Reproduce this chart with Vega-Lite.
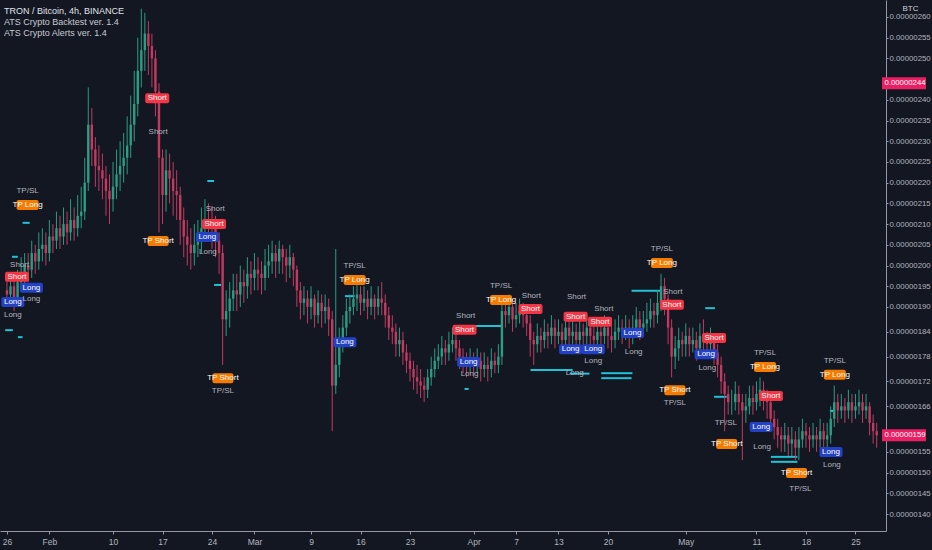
{
  "$schema": "https://vega.github.io/schema/vega-lite/v6.json",
  "width": 886,
  "height": 531,
  "autosize": "none",
  "padding": {"left": 0, "top": 0, "right": 46, "bottom": 19},
  "background": "#131722",
  "config": {"view": {"stroke": null}},
  "title": {
    "text": "TRON / Bitcoin, 4h, BINANCE",
    "subtitle": ["ATS Crypto Backtest ver. 1.4", "ATS Crypto Alerts ver. 1.4"],
    "anchor": "start",
    "frame": "group",
    "orient": "top",
    "offset": -38,
    "dx": 4,
    "font": "Liberation Sans Narrow, Liberation Sans, sans-serif",
    "fontSize": 9,
    "fontWeight": "normal",
    "color": "#e0e3eb",
    "subtitleFont": "Liberation Sans Narrow, Liberation Sans, sans-serif",
    "subtitleFontSize": 9,
    "subtitleColor": "#c8cad0",
    "subtitlePadding": 2
  },
  "datasets": {
    "candles": [
      {"t":"2020-01-26T00:00","o":194,"h":197,"l":190,"c":193},
      {"t":"2020-01-26T12:00","o":193,"h":198,"l":191,"c":195},
      {"t":"2020-01-27T00:00","o":195,"h":197,"l":189,"c":192},
      {"t":"2020-01-27T12:00","o":192,"h":199,"l":190,"c":196},
      {"t":"2020-01-28T00:00","o":196,"h":202,"l":194,"c":198},
      {"t":"2020-01-28T12:00","o":198,"h":203,"l":195,"c":200},
      {"t":"2020-01-29T00:00","o":200,"h":203,"l":196,"c":199},
      {"t":"2020-01-29T12:00","o":199,"h":206,"l":197,"c":203},
      {"t":"2020-01-30T00:00","o":203,"h":205,"l":198,"c":201},
      {"t":"2020-01-30T12:00","o":201,"h":208,"l":199,"c":204},
      {"t":"2020-01-31T00:00","o":204,"h":209,"l":201,"c":205},
      {"t":"2020-01-31T12:00","o":205,"h":208,"l":200,"c":203},
      {"t":"2020-02-01T00:00","o":203,"h":211,"l":201,"c":207},
      {"t":"2020-02-01T12:00","o":207,"h":210,"l":203,"c":206},
      {"t":"2020-02-02T00:00","o":206,"h":213,"l":204,"c":209},
      {"t":"2020-02-02T12:00","o":209,"h":212,"l":204,"c":207},
      {"t":"2020-02-03T00:00","o":207,"h":214,"l":205,"c":210},
      {"t":"2020-02-03T12:00","o":210,"h":213,"l":205,"c":208},
      {"t":"2020-02-04T00:00","o":208,"h":216,"l":206,"c":211},
      {"t":"2020-02-04T12:00","o":211,"h":214,"l":206,"c":209},
      {"t":"2020-02-05T00:00","o":209,"h":217,"l":207,"c":212},
      {"t":"2020-02-05T12:00","o":212,"h":219,"l":209,"c":213},
      {"t":"2020-02-06T00:00","o":213,"h":226,"l":211,"c":220},
      {"t":"2020-02-06T12:00","o":220,"h":243,"l":218,"c":234},
      {"t":"2020-02-07T00:00","o":234,"h":238,"l":224,"c":228},
      {"t":"2020-02-07T12:00","o":228,"h":231,"l":219,"c":224},
      {"t":"2020-02-08T00:00","o":224,"h":229,"l":218,"c":223},
      {"t":"2020-02-08T12:00","o":223,"h":227,"l":216,"c":221},
      {"t":"2020-02-09T00:00","o":221,"h":224,"l":212,"c":218},
      {"t":"2020-02-09T12:00","o":218,"h":222,"l":210,"c":216},
      {"t":"2020-02-10T00:00","o":216,"h":225,"l":213,"c":219},
      {"t":"2020-02-10T12:00","o":219,"h":228,"l":216,"c":222},
      {"t":"2020-02-11T00:00","o":222,"h":230,"l":218,"c":224},
      {"t":"2020-02-11T12:00","o":224,"h":232,"l":220,"c":226},
      {"t":"2020-02-12T00:00","o":226,"h":236,"l":222,"c":229},
      {"t":"2020-02-12T12:00","o":229,"h":241,"l":226,"c":234},
      {"t":"2020-02-13T00:00","o":234,"h":247,"l":230,"c":239},
      {"t":"2020-02-13T12:00","o":239,"h":255,"l":236,"c":247},
      {"t":"2020-02-14T00:00","o":247,"h":262,"l":243,"c":252},
      {"t":"2020-02-14T12:00","o":252,"h":261,"l":247,"c":256},
      {"t":"2020-02-15T00:00","o":256,"h":259,"l":246,"c":253},
      {"t":"2020-02-15T12:00","o":253,"h":256,"l":243,"c":250},
      {"t":"2020-02-16T00:00","o":250,"h":252,"l":236,"c":242},
      {"t":"2020-02-16T12:00","o":242,"h":244,"l":208,"c":226},
      {"t":"2020-02-17T00:00","o":226,"h":228,"l":210,"c":217},
      {"t":"2020-02-17T12:00","o":217,"h":228,"l":213,"c":223},
      {"t":"2020-02-18T00:00","o":223,"h":227,"l":215,"c":221},
      {"t":"2020-02-18T12:00","o":221,"h":225,"l":212,"c":218},
      {"t":"2020-02-19T00:00","o":218,"h":223,"l":211,"c":217},
      {"t":"2020-02-19T12:00","o":217,"h":219,"l":205,"c":211},
      {"t":"2020-02-20T00:00","o":211,"h":214,"l":202,"c":207},
      {"t":"2020-02-20T12:00","o":207,"h":211,"l":200,"c":205},
      {"t":"2020-02-21T00:00","o":205,"h":209,"l":199,"c":203},
      {"t":"2020-02-21T12:00","o":203,"h":210,"l":200,"c":205},
      {"t":"2020-02-22T00:00","o":205,"h":211,"l":202,"c":206},
      {"t":"2020-02-22T12:00","o":206,"h":214,"l":203,"c":209},
      {"t":"2020-02-23T00:00","o":209,"h":216,"l":206,"c":211},
      {"t":"2020-02-23T12:00","o":211,"h":215,"l":206,"c":210},
      {"t":"2020-02-24T00:00","o":210,"h":214,"l":204,"c":209},
      {"t":"2020-02-24T12:00","o":209,"h":212,"l":202,"c":206},
      {"t":"2020-02-25T00:00","o":206,"h":208,"l":198,"c":203},
      {"t":"2020-02-25T12:00","o":203,"h":205,"l":176,"c":187},
      {"t":"2020-02-26T00:00","o":187,"h":194,"l":183,"c":189},
      {"t":"2020-02-26T12:00","o":189,"h":196,"l":185,"c":192},
      {"t":"2020-02-27T00:00","o":192,"h":198,"l":189,"c":194},
      {"t":"2020-02-27T12:00","o":194,"h":198,"l":189,"c":193},
      {"t":"2020-02-28T00:00","o":193,"h":200,"l":190,"c":196},
      {"t":"2020-02-28T12:00","o":196,"h":199,"l":191,"c":195},
      {"t":"2020-02-29T00:00","o":195,"h":202,"l":192,"c":198},
      {"t":"2020-02-29T12:00","o":198,"h":201,"l":193,"c":197},
      {"t":"2020-03-01T00:00","o":197,"h":203,"l":194,"c":199},
      {"t":"2020-03-01T12:00","o":199,"h":202,"l":194,"c":198},
      {"t":"2020-03-02T00:00","o":198,"h":201,"l":193,"c":197},
      {"t":"2020-03-02T12:00","o":197,"h":204,"l":194,"c":200},
      {"t":"2020-03-03T00:00","o":200,"h":205,"l":197,"c":201},
      {"t":"2020-03-03T12:00","o":201,"h":206,"l":198,"c":203},
      {"t":"2020-03-04T00:00","o":203,"h":205,"l":197,"c":201},
      {"t":"2020-03-04T12:00","o":201,"h":206,"l":198,"c":204},
      {"t":"2020-03-05T00:00","o":204,"h":205,"l":198,"c":202},
      {"t":"2020-03-05T12:00","o":202,"h":204,"l":196,"c":200},
      {"t":"2020-03-06T00:00","o":200,"h":205,"l":197,"c":202},
      {"t":"2020-03-06T12:00","o":202,"h":203,"l":195,"c":199},
      {"t":"2020-03-07T00:00","o":199,"h":200,"l":190,"c":194},
      {"t":"2020-03-07T12:00","o":194,"h":196,"l":187,"c":191},
      {"t":"2020-03-08T00:00","o":191,"h":195,"l":188,"c":192},
      {"t":"2020-03-08T12:00","o":192,"h":194,"l":186,"c":190},
      {"t":"2020-03-09T00:00","o":190,"h":195,"l":187,"c":192},
      {"t":"2020-03-09T12:00","o":192,"h":193,"l":185,"c":188},
      {"t":"2020-03-10T00:00","o":188,"h":194,"l":186,"c":191},
      {"t":"2020-03-10T12:00","o":191,"h":193,"l":185,"c":189},
      {"t":"2020-03-11T00:00","o":189,"h":193,"l":186,"c":190},
      {"t":"2020-03-11T12:00","o":190,"h":192,"l":183,"c":187},
      {"t":"2020-03-12T00:00","o":187,"h":189,"l":160,"c":171},
      {"t":"2020-03-12T12:00","o":171,"h":204,"l":169,"c":176},
      {"t":"2020-03-13T00:00","o":176,"h":185,"l":173,"c":182},
      {"t":"2020-03-13T12:00","o":182,"h":188,"l":179,"c":185},
      {"t":"2020-03-14T00:00","o":185,"h":192,"l":183,"c":189},
      {"t":"2020-03-14T12:00","o":189,"h":193,"l":186,"c":190},
      {"t":"2020-03-15T00:00","o":190,"h":195,"l":188,"c":192},
      {"t":"2020-03-15T12:00","o":192,"h":196,"l":189,"c":193},
      {"t":"2020-03-16T00:00","o":193,"h":195,"l":188,"c":191},
      {"t":"2020-03-16T12:00","o":191,"h":195,"l":189,"c":192},
      {"t":"2020-03-17T00:00","o":192,"h":194,"l":187,"c":190},
      {"t":"2020-03-17T12:00","o":190,"h":195,"l":188,"c":192},
      {"t":"2020-03-18T00:00","o":192,"h":193,"l":187,"c":190},
      {"t":"2020-03-18T12:00","o":190,"h":195,"l":188,"c":192},
      {"t":"2020-03-19T00:00","o":192,"h":196,"l":188,"c":191},
      {"t":"2020-03-19T12:00","o":191,"h":193,"l":185,"c":188},
      {"t":"2020-03-20T00:00","o":188,"h":190,"l":182,"c":185},
      {"t":"2020-03-20T12:00","o":185,"h":188,"l":181,"c":184},
      {"t":"2020-03-21T00:00","o":184,"h":186,"l":178,"c":181},
      {"t":"2020-03-21T12:00","o":181,"h":185,"l":178,"c":182},
      {"t":"2020-03-22T00:00","o":182,"h":184,"l":176,"c":179},
      {"t":"2020-03-22T12:00","o":179,"h":181,"l":174,"c":177},
      {"t":"2020-03-23T00:00","o":177,"h":179,"l":172,"c":175},
      {"t":"2020-03-23T12:00","o":175,"h":177,"l":170,"c":173},
      {"t":"2020-03-24T00:00","o":173,"h":176,"l":169,"c":172},
      {"t":"2020-03-24T12:00","o":172,"h":175,"l":168,"c":171},
      {"t":"2020-03-25T00:00","o":171,"h":173,"l":167,"c":170},
      {"t":"2020-03-25T12:00","o":170,"h":175,"l":168,"c":173},
      {"t":"2020-03-26T00:00","o":173,"h":178,"l":171,"c":175},
      {"t":"2020-03-26T12:00","o":175,"h":180,"l":173,"c":177},
      {"t":"2020-03-27T00:00","o":177,"h":181,"l":175,"c":178},
      {"t":"2020-03-27T12:00","o":178,"h":183,"l":176,"c":180},
      {"t":"2020-03-28T00:00","o":180,"h":182,"l":176,"c":179},
      {"t":"2020-03-28T12:00","o":179,"h":184,"l":177,"c":181},
      {"t":"2020-03-29T00:00","o":181,"h":185,"l":179,"c":182},
      {"t":"2020-03-29T12:00","o":182,"h":184,"l":177,"c":180},
      {"t":"2020-03-30T00:00","o":180,"h":182,"l":175,"c":178},
      {"t":"2020-03-30T12:00","o":178,"h":180,"l":174,"c":177},
      {"t":"2020-03-31T00:00","o":177,"h":179,"l":173,"c":176},
      {"t":"2020-03-31T12:00","o":176,"h":180,"l":174,"c":177},
      {"t":"2020-04-01T00:00","o":177,"h":179,"l":173,"c":176},
      {"t":"2020-04-01T12:00","o":176,"h":180,"l":174,"c":177},
      {"t":"2020-04-02T00:00","o":177,"h":179,"l":172,"c":175},
      {"t":"2020-04-02T12:00","o":175,"h":179,"l":173,"c":176},
      {"t":"2020-04-03T00:00","o":176,"h":178,"l":172,"c":175},
      {"t":"2020-04-03T12:00","o":175,"h":180,"l":173,"c":177},
      {"t":"2020-04-04T00:00","o":177,"h":179,"l":174,"c":176},
      {"t":"2020-04-04T12:00","o":176,"h":181,"l":174,"c":178},
      {"t":"2020-04-05T00:00","o":178,"h":192,"l":176,"c":189},
      {"t":"2020-04-05T12:00","o":189,"h":192,"l":185,"c":188},
      {"t":"2020-04-06T00:00","o":188,"h":193,"l":186,"c":190},
      {"t":"2020-04-06T12:00","o":190,"h":192,"l":184,"c":187},
      {"t":"2020-04-07T00:00","o":187,"h":191,"l":185,"c":188},
      {"t":"2020-04-07T12:00","o":188,"h":192,"l":186,"c":189},
      {"t":"2020-04-08T00:00","o":189,"h":191,"l":185,"c":188},
      {"t":"2020-04-08T12:00","o":188,"h":190,"l":183,"c":186},
      {"t":"2020-04-09T00:00","o":186,"h":188,"l":178,"c":182},
      {"t":"2020-04-09T12:00","o":182,"h":184,"l":176,"c":181},
      {"t":"2020-04-10T00:00","o":181,"h":186,"l":179,"c":183},
      {"t":"2020-04-10T12:00","o":183,"h":185,"l":179,"c":182},
      {"t":"2020-04-11T00:00","o":182,"h":187,"l":180,"c":184},
      {"t":"2020-04-11T12:00","o":184,"h":186,"l":180,"c":183},
      {"t":"2020-04-12T00:00","o":183,"h":188,"l":181,"c":185},
      {"t":"2020-04-12T12:00","o":185,"h":187,"l":180,"c":183},
      {"t":"2020-04-13T00:00","o":183,"h":187,"l":181,"c":184},
      {"t":"2020-04-13T12:00","o":184,"h":186,"l":179,"c":182},
      {"t":"2020-04-14T00:00","o":182,"h":188,"l":180,"c":185},
      {"t":"2020-04-14T12:00","o":185,"h":187,"l":180,"c":183},
      {"t":"2020-04-15T00:00","o":183,"h":187,"l":181,"c":184},
      {"t":"2020-04-15T12:00","o":184,"h":186,"l":179,"c":182},
      {"t":"2020-04-16T00:00","o":182,"h":187,"l":180,"c":184},
      {"t":"2020-04-16T12:00","o":184,"h":186,"l":180,"c":183},
      {"t":"2020-04-17T00:00","o":183,"h":188,"l":181,"c":185},
      {"t":"2020-04-17T12:00","o":185,"h":187,"l":180,"c":183},
      {"t":"2020-04-18T00:00","o":183,"h":186,"l":179,"c":182},
      {"t":"2020-04-18T12:00","o":182,"h":187,"l":180,"c":184},
      {"t":"2020-04-19T00:00","o":184,"h":186,"l":180,"c":183},
      {"t":"2020-04-19T12:00","o":183,"h":188,"l":181,"c":185},
      {"t":"2020-04-20T00:00","o":185,"h":187,"l":180,"c":183},
      {"t":"2020-04-20T12:00","o":183,"h":186,"l":179,"c":182},
      {"t":"2020-04-21T00:00","o":182,"h":187,"l":180,"c":184},
      {"t":"2020-04-21T12:00","o":184,"h":188,"l":182,"c":185},
      {"t":"2020-04-22T00:00","o":185,"h":187,"l":181,"c":184},
      {"t":"2020-04-22T12:00","o":184,"h":188,"l":182,"c":185},
      {"t":"2020-04-23T00:00","o":185,"h":187,"l":180,"c":183},
      {"t":"2020-04-23T12:00","o":183,"h":188,"l":181,"c":185},
      {"t":"2020-04-24T00:00","o":185,"h":190,"l":183,"c":187},
      {"t":"2020-04-24T12:00","o":187,"h":189,"l":182,"c":185},
      {"t":"2020-04-25T00:00","o":185,"h":189,"l":183,"c":186},
      {"t":"2020-04-25T12:00","o":186,"h":191,"l":184,"c":187},
      {"t":"2020-04-26T00:00","o":187,"h":192,"l":185,"c":189},
      {"t":"2020-04-26T12:00","o":189,"h":191,"l":185,"c":188},
      {"t":"2020-04-27T00:00","o":188,"h":194,"l":186,"c":191},
      {"t":"2020-04-27T12:00","o":191,"h":198,"l":189,"c":195},
      {"t":"2020-04-28T00:00","o":195,"h":197,"l":188,"c":192},
      {"t":"2020-04-28T12:00","o":192,"h":193,"l":181,"c":185},
      {"t":"2020-04-29T00:00","o":185,"h":187,"l":173,"c":178},
      {"t":"2020-04-29T12:00","o":178,"h":183,"l":175,"c":180},
      {"t":"2020-04-30T00:00","o":180,"h":185,"l":177,"c":182},
      {"t":"2020-04-30T12:00","o":182,"h":184,"l":178,"c":181},
      {"t":"2020-05-01T00:00","o":181,"h":186,"l":178,"c":183},
      {"t":"2020-05-01T12:00","o":183,"h":185,"l":178,"c":181},
      {"t":"2020-05-02T00:00","o":181,"h":185,"l":179,"c":182},
      {"t":"2020-05-02T12:00","o":182,"h":184,"l":177,"c":180},
      {"t":"2020-05-03T00:00","o":180,"h":186,"l":178,"c":183},
      {"t":"2020-05-03T12:00","o":183,"h":187,"l":179,"c":182},
      {"t":"2020-05-04T00:00","o":182,"h":184,"l":178,"c":181},
      {"t":"2020-05-04T12:00","o":181,"h":185,"l":179,"c":182},
      {"t":"2020-05-05T00:00","o":182,"h":183,"l":176,"c":179},
      {"t":"2020-05-05T12:00","o":179,"h":181,"l":173,"c":176},
      {"t":"2020-05-06T00:00","o":176,"h":178,"l":169,"c":172},
      {"t":"2020-05-06T12:00","o":172,"h":174,"l":160,"c":169},
      {"t":"2020-05-07T00:00","o":169,"h":171,"l":164,"c":167},
      {"t":"2020-05-07T12:00","o":167,"h":170,"l":164,"c":167},
      {"t":"2020-05-08T00:00","o":167,"h":172,"l":165,"c":169},
      {"t":"2020-05-08T12:00","o":169,"h":171,"l":164,"c":167},
      {"t":"2020-05-09T00:00","o":167,"h":169,"l":153,"c":165},
      {"t":"2020-05-09T12:00","o":165,"h":169,"l":162,"c":166},
      {"t":"2020-05-10T00:00","o":166,"h":171,"l":164,"c":168},
      {"t":"2020-05-10T12:00","o":168,"h":171,"l":164,"c":167},
      {"t":"2020-05-11T00:00","o":167,"h":172,"l":165,"c":169},
      {"t":"2020-05-11T12:00","o":169,"h":173,"l":166,"c":170},
      {"t":"2020-05-12T00:00","o":170,"h":172,"l":165,"c":168},
      {"t":"2020-05-12T12:00","o":168,"h":170,"l":163,"c":167},
      {"t":"2020-05-13T00:00","o":167,"h":169,"l":160,"c":163},
      {"t":"2020-05-13T12:00","o":163,"h":165,"l":158,"c":161},
      {"t":"2020-05-14T00:00","o":161,"h":163,"l":156,"c":159},
      {"t":"2020-05-14T12:00","o":159,"h":161,"l":155,"c":158},
      {"t":"2020-05-15T00:00","o":158,"h":162,"l":155,"c":159},
      {"t":"2020-05-15T12:00","o":159,"h":161,"l":154,"c":157},
      {"t":"2020-05-16T00:00","o":157,"h":161,"l":154,"c":158},
      {"t":"2020-05-16T12:00","o":158,"h":160,"l":153,"c":156},
      {"t":"2020-05-17T00:00","o":156,"h":161,"l":153,"c":158},
      {"t":"2020-05-17T12:00","o":158,"h":163,"l":156,"c":160},
      {"t":"2020-05-18T00:00","o":160,"h":162,"l":156,"c":159},
      {"t":"2020-05-18T12:00","o":159,"h":161,"l":155,"c":158},
      {"t":"2020-05-19T00:00","o":158,"h":162,"l":156,"c":159},
      {"t":"2020-05-19T12:00","o":159,"h":161,"l":155,"c":158},
      {"t":"2020-05-20T00:00","o":158,"h":163,"l":156,"c":160},
      {"t":"2020-05-20T12:00","o":160,"h":162,"l":155,"c":158},
      {"t":"2020-05-21T00:00","o":158,"h":162,"l":156,"c":159},
      {"t":"2020-05-21T12:00","o":159,"h":166,"l":157,"c":163},
      {"t":"2020-05-22T00:00","o":163,"h":171,"l":161,"c":167},
      {"t":"2020-05-22T12:00","o":167,"h":169,"l":162,"c":165},
      {"t":"2020-05-23T00:00","o":165,"h":169,"l":163,"c":166},
      {"t":"2020-05-23T12:00","o":166,"h":168,"l":162,"c":165},
      {"t":"2020-05-24T00:00","o":165,"h":170,"l":163,"c":167},
      {"t":"2020-05-24T12:00","o":167,"h":169,"l":162,"c":165},
      {"t":"2020-05-25T00:00","o":165,"h":169,"l":163,"c":166},
      {"t":"2020-05-25T12:00","o":166,"h":170,"l":164,"c":167},
      {"t":"2020-05-26T00:00","o":167,"h":169,"l":162,"c":165},
      {"t":"2020-05-26T12:00","o":165,"h":169,"l":163,"c":166},
      {"t":"2020-05-27T00:00","o":166,"h":167,"l":159,"c":162},
      {"t":"2020-05-27T12:00","o":162,"h":164,"l":157,"c":160},
      {"t":"2020-05-28T00:00","o":160,"h":162,"l":156,"c":159}
    ],
    "levels": [
      {"t":"2020-01-25T18:00","t2":"2020-01-26T20:00","v":184.4},
      {"t":"2020-01-27T13:00","t2":"2020-01-28T05:00","v":182.7},
      {"t":"2020-01-26T17:00","t2":"2020-01-27T13:00","v":202.1},
      {"t":"2020-01-28T05:00","t2":"2020-01-29T05:00","v":210.3},
      {"t":"2020-02-23T08:00","t2":"2020-02-24T07:00","v":220.4},
      {"t":"2020-02-24T07:00","t2":"2020-02-25T07:00","v":195.3},
      {"t":"2020-03-13T19:00","t2":"2020-03-15T04:00","v":192.6},
      {"t":"2020-03-30T17:00","t2":"2020-03-31T07:00","v":170.2},
      {"t":"2020-03-31T07:00","t2":"2020-04-04T21:00","v":185.4},
      {"t":"2020-04-09T01:00","t2":"2020-04-15T00:00","v":174.8},
      {"t":"2020-04-14T14:00","t2":"2020-04-17T09:00","v":173.9},
      {"t":"2020-04-19T01:00","t2":"2020-04-23T11:00","v":174.0},
      {"t":"2020-04-19T01:00","t2":"2020-04-23T08:00","v":172.8},
      {"t":"2020-04-23T08:00","t2":"2020-04-27T12:00","v":193.9},
      {"t":"2020-05-03T18:00","t2":"2020-05-05T03:00","v":189.7},
      {"t":"2020-05-05T00:00","t2":"2020-05-06T19:00","v":168.3},
      {"t":"2020-05-13T01:00","t2":"2020-05-16T19:00","v":153.8},
      {"t":"2020-05-13T01:00","t2":"2020-05-16T19:00","v":152.6},
      {"t":"2020-05-21T09:00","t2":"2020-05-22T02:00","v":164.9}
    ],
    "signals": [
      {"t":"2020-01-28T22:00","v":218.0,"label":"TP/SL","kind":"text"},
      {"t":"2020-01-28T22:00","v":214.6,"label":"TP Long","kind":"TP Long"},
      {"t":"2020-01-27T19:00","v":200.2,"label":"Short","kind":"text"},
      {"t":"2020-01-27T10:00","v":197.3,"label":"Short","kind":"Short"},
      {"t":"2020-01-29T11:00","v":194.6,"label":"Long","kind":"Long"},
      {"t":"2020-01-29T11:00","v":191.8,"label":"Long","kind":"text"},
      {"t":"2020-01-26T20:00","v":191.2,"label":"Long","kind":"Long"},
      {"t":"2020-01-26T20:00","v":188.0,"label":"Long","kind":"text"},
      {"t":"2020-02-16T06:00","v":240.4,"label":"Short","kind":"Short"},
      {"t":"2020-02-16T09:00","v":232.2,"label":"Short","kind":"text"},
      {"t":"2020-02-16T09:00","v":205.9,"label":"TP Short","kind":"TP Short"},
      {"t":"2020-02-24T11:00","v":213.6,"label":"Short","kind":"text"},
      {"t":"2020-02-24T07:00","v":210.0,"label":"Short","kind":"Short"},
      {"t":"2020-02-23T08:00","v":206.9,"label":"Long","kind":"Long"},
      {"t":"2020-02-23T10:00","v":203.3,"label":"Long","kind":"text"},
      {"t":"2020-02-25T13:00","v":172.8,"label":"TP Short","kind":"TP Short"},
      {"t":"2020-02-25T13:00","v":169.6,"label":"TP/SL","kind":"text"},
      {"t":"2020-03-15T04:00","v":199.8,"label":"TP/SL","kind":"text"},
      {"t":"2020-03-15T04:00","v":196.5,"label":"TP Long","kind":"TP Long"},
      {"t":"2020-03-13T19:00","v":181.5,"label":"Long","kind":"Long"},
      {"t":"2020-03-30T21:00","v":187.8,"label":"Short","kind":"text"},
      {"t":"2020-03-30T17:00","v":184.5,"label":"Short","kind":"Short"},
      {"t":"2020-03-31T07:00","v":176.7,"label":"Long","kind":"Long"},
      {"t":"2020-03-31T10:00","v":173.8,"label":"Long","kind":"text"},
      {"t":"2020-04-04T21:00","v":195.0,"label":"TP/SL","kind":"text"},
      {"t":"2020-04-04T21:00","v":191.7,"label":"TP Long","kind":"TP Long"},
      {"t":"2020-04-09T04:00","v":192.6,"label":"Short","kind":"text"},
      {"t":"2020-04-09T01:00","v":189.5,"label":"Short","kind":"Short"},
      {"t":"2020-04-15T13:00","v":192.4,"label":"Short","kind":"text"},
      {"t":"2020-04-15T10:00","v":187.6,"label":"Short","kind":"Short"},
      {"t":"2020-04-19T10:00","v":189.6,"label":"Short","kind":"text"},
      {"t":"2020-04-18T21:00","v":186.4,"label":"Short","kind":"Short"},
      {"t":"2020-04-14T17:00","v":179.8,"label":"Long","kind":"Long"},
      {"t":"2020-04-17T22:00","v":179.8,"label":"Long","kind":"Long"},
      {"t":"2020-04-17T22:00","v":176.9,"label":"Long","kind":"text"},
      {"t":"2020-04-15T07:00","v":174.1,"label":"Long","kind":"text"},
      {"t":"2020-04-23T11:00","v":183.7,"label":"Long","kind":"Long"},
      {"t":"2020-04-23T15:00","v":179.1,"label":"Long","kind":"text"},
      {"t":"2020-04-27T15:00","v":203.9,"label":"TP/SL","kind":"text"},
      {"t":"2020-04-27T15:00","v":200.6,"label":"TP Long","kind":"TP Long"},
      {"t":"2020-04-29T04:00","v":193.6,"label":"Short","kind":"text"},
      {"t":"2020-04-29T01:00","v":190.5,"label":"Short","kind":"Short"},
      {"t":"2020-04-29T11:00","v":169.9,"label":"TP Short","kind":"TP Short"},
      {"t":"2020-04-29T11:00","v":166.8,"label":"TP/SL","kind":"text"},
      {"t":"2020-05-05T00:00","v":182.5,"label":"Short","kind":"Short"},
      {"t":"2020-05-03T21:00","v":178.6,"label":"Long","kind":"Long"},
      {"t":"2020-05-04T01:00","v":175.3,"label":"Long","kind":"text"},
      {"t":"2020-05-06T16:00","v":162.0,"label":"TP/SL","kind":"text"},
      {"t":"2020-05-06T19:00","v":156.9,"label":"TP Short","kind":"TP Short"},
      {"t":"2020-05-12T05:00","v":178.8,"label":"TP/SL","kind":"text"},
      {"t":"2020-05-12T05:00","v":175.5,"label":"TP Long","kind":"TP Long"},
      {"t":"2020-05-13T01:00","v":168.5,"label":"Short","kind":"Short"},
      {"t":"2020-05-11T16:00","v":161.0,"label":"Long","kind":"Long"},
      {"t":"2020-05-11T19:00","v":156.2,"label":"Long","kind":"text"},
      {"t":"2020-05-16T16:00","v":149.9,"label":"TP Short","kind":"TP Short"},
      {"t":"2020-05-17T05:00","v":146.0,"label":"TP/SL","kind":"text"},
      {"t":"2020-05-22T02:00","v":176.9,"label":"TP/SL","kind":"text"},
      {"t":"2020-05-22T02:00","v":173.6,"label":"TP Long","kind":"TP Long"},
      {"t":"2020-05-21T13:00","v":155.0,"label":"Long","kind":"Long"},
      {"t":"2020-05-21T16:00","v":151.9,"label":"Long","kind":"text"}
    ],
    "tags": [
      {"t":"2020-05-28T14:40","v":244,"label":"0.00000244"},
      {"t":"2020-05-28T14:40","v":159,"label":"0.00000159"}
    ]
  },
  "encoding": {
    "x": {
      "field": "t",
      "type": "temporal",
      "title": null,
      "scale": {"domain": [
        {"year":2020,"month":1,"date":25,"hours":17,"minutes":20},
        {"year":2020,"month":5,"date":28,"hours":14,"minutes":40}
      ]},
      "axis": {
        "values": [
          {"year":2020,"month":1,"date":26},
          {"year":2020,"month":2,"date":1},
          {"year":2020,"month":2,"date":10},
          {"year":2020,"month":2,"date":17},
          {"year":2020,"month":2,"date":24},
          {"year":2020,"month":3,"date":1},
          {"year":2020,"month":3,"date":9},
          {"year":2020,"month":3,"date":16},
          {"year":2020,"month":3,"date":23},
          {"year":2020,"month":4,"date":1},
          {"year":2020,"month":4,"date":7},
          {"year":2020,"month":4,"date":13},
          {"year":2020,"month":4,"date":20},
          {"year":2020,"month":5,"date":1},
          {"year":2020,"month":5,"date":11},
          {"year":2020,"month":5,"date":18},
          {"year":2020,"month":5,"date":25}
        ],
        "labelExpr": "date(datum.value) == 1 ? timeFormat(datum.value, '%b') : timeFormat(datum.value, '%-d')",
        "grid": false,
        "domainColor": "#9598a1",
        "tickColor": "#9598a1",
        "tickSize": 3,
        "labelColor": "#b2b5be",
        "labelFont": "Liberation Sans Narrow, Liberation Sans, sans-serif",
        "labelFontSize": 8.5,
        "labelPadding": 3,
        "labelFlush": false,
        "labelOverlap": false
      }
    },
    "y": {
      "field": "v",
      "type": "quantitative",
      "title": "BTC",
      "scale": {"domain": [135.9, 264.1], "nice": false, "zero": false},
      "axis": {
        "orient": "right",
        "values": [140,145,150,155,166,172,178,184,190,195,200,205,210,215,220,225,230,235,240,250,255,260],
        "labelExpr": "'0.00000' + datum.value",
        "grid": false,
        "titleAngle": 0,
        "titleAlign": "center",
        "titleBaseline": "middle",
        "titleX": 24,
        "titleY": 8,
        "titleFont": "Liberation Sans Narrow, Liberation Sans, sans-serif",
        "titleFontSize": 8,
        "titleFontWeight": "normal",
        "titleColor": "#d1d4dc",
        "domainColor": "#9598a1",
        "tickColor": "#9598a1",
        "tickSize": 2,
        "labelColor": "#b2b5be",
        "labelFont": "Liberation Sans Narrow, Liberation Sans, sans-serif",
        "labelFontSize": 7.8,
        "labelPadding": 1,
        "labelOverlap": false,
        "labelFlush": false
      }
    }
  },
  "resolve": {"scale": {"color": "independent", "size": "independent"}},
  "layer": [
    {
      "data": {"name": "levels"},
      "mark": {"type": "rule", "color": "#22c1d6", "strokeWidth": 2},
      "encoding": {
        "x2": {"field": "t2"}
      }
    },
    {
      "data": {"name": "candles"},
      "mark": {"type": "rule", "strokeWidth": 1},
      "encoding": {
        "y": {"field": "l", "type": "quantitative", "title": "BTC"},
        "y2": {"field": "h"},
        "color": {"condition": {"test": "datum.c >= datum.o", "value": "#2a9d83"}, "value": "#c23a60"}
      }
    },
    {
      "data": {"name": "candles"},
      "mark": {"type": "bar", "width": 2.4},
      "encoding": {
        "y": {"field": "o", "type": "quantitative", "title": "BTC"},
        "y2": {"field": "c"},
        "color": {"condition": {"test": "datum.c >= datum.o", "value": "#2a9d83"}, "value": "#c23a60"}
      }
    },
    {
      "data": {"name": "signals"},
      "transform": [{"filter": "datum.kind != 'text'"}],
      "mark": {"type": "tick", "orient": "horizontal", "thickness": 10, "cornerRadius": 2, "opacity": 1},
      "encoding": {
        "color": {
          "field": "kind",
          "type": "nominal",
          "scale": {"domain": ["Short", "Long", "TP Long", "TP Short"], "range": ["#f23645", "#2341c4", "#f57c00", "#f57c00"]},
          "legend": null
        },
        "size": {
          "field": "kind",
          "type": "ordinal",
          "scale": {"domain": ["Short", "Long", "TP Long", "TP Short"], "range": [24, 21, 31, 34]},
          "legend": null
        }
      }
    },
    {
      "data": {"name": "signals"},
      "mark": {"type": "text", "font": "Liberation Sans Narrow, Liberation Sans, sans-serif", "fontSize": 8, "baseline": "middle", "align": "center"},
      "encoding": {
        "text": {"field": "label"},
        "color": {
          "field": "kind",
          "type": "nominal",
          "scale": {"domain": ["Short", "Long", "TP Long", "TP Short", "text"], "range": ["#ffffff", "#ffffff", "#ffffff", "#ffffff", "#b2b5be"]},
          "legend": null
        }
      }
    },
    {
      "data": {"name": "tags"},
      "mark": {"type": "tick", "orient": "horizontal", "thickness": 12, "size": 44, "xOffset": 23, "color": "#e91e63", "opacity": 1},
      "encoding": {}
    },
    {
      "data": {"name": "tags"},
      "mark": {"type": "text", "xOffset": 24, "font": "Liberation Sans Narrow, Liberation Sans, sans-serif", "fontSize": 7.8, "color": "#ffffff", "baseline": "middle", "align": "center"},
      "encoding": {
        "text": {"field": "label"}
      }
    }
  ]
}
